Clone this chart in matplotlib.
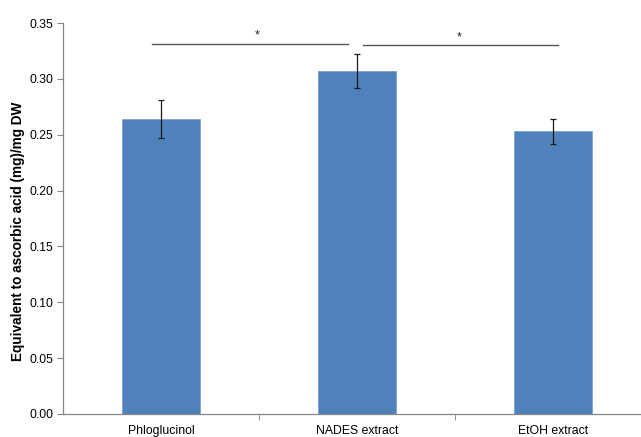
import numpy as np
import matplotlib.pyplot as plt

plt.rcParams['font.family'] = ['Liberation Sans', 'DejaVu Sans']

# Antioxidant capacity per sample
samples = ['Phloglucinol', 'NADES extract', 'EtOH extract']
means = [0.264, 0.307, 0.253]
errors = [0.017, 0.015, 0.011]

# Significance brackets: (start, end, height) in data units
brackets = [(-0.045, 0.952, 0.331), (1.03, 2.024, 0.330)]
stars = [(0.49, 0.339), (1.52, 0.337)]

fig = plt.figure(figsize=(6.41, 4.37), dpi=100)
ax = fig.add_axes([63 / 641, 1 - 414 / 437, 588 / 641, (414 - 23) / 437])

x = np.arange(len(samples))
ax.bar(x, means, width=0.4, color='#4F81BD', edgecolor='#7FA3D0', linewidth=0.6, zorder=2)
ax.errorbar(x, means, yerr=errors, fmt='none', ecolor='#1a1a1a', elinewidth=0.9,
            capsize=2.5, capthick=0.9, zorder=3)

for x0, x1, h in brackets:
    ax.plot([x0, x1], [h, h], color='#555555', linewidth=1.0, clip_on=False)
for sx, sy in stars:
    ax.text(sx, sy, '*', ha='center', va='center', fontsize=9, color='#222222')

ax.set_xlim(-0.5, 2.5)
ax.set_ylim(0, 0.35)
ax.set_yticks(np.arange(0, 0.351, 0.05))
ax.set_yticklabels([f'{v:.2f}' for v in np.arange(0, 0.351, 0.05)], fontsize=8.8)
ax.set_xticks(x)
ax.set_xticklabels(samples, fontsize=8.8)
ax.tick_params(axis='x', length=0, pad=8)
ax.tick_params(axis='y', length=4, color='#868686', pad=3)
# category separators along the x axis
ax.set_xticks([0.5, 1.5], minor=True)
ax.tick_params(axis='x', which='minor', length=4, color='#868686')

for side in ['top', 'right']:
    ax.spines[side].set_visible(False)
for side in ['left', 'bottom']:
    ax.spines[side].set_color('#868686')
    ax.spines[side].set_linewidth(0.9)

ax.set_ylabel('Equivalent to ascorbic acid (mg)/mg DW', fontsize=9.8, fontweight='bold')
ax.yaxis.set_label_coords(-0.064, 0.468)

fig.savefig('out.png', dpi=100)
